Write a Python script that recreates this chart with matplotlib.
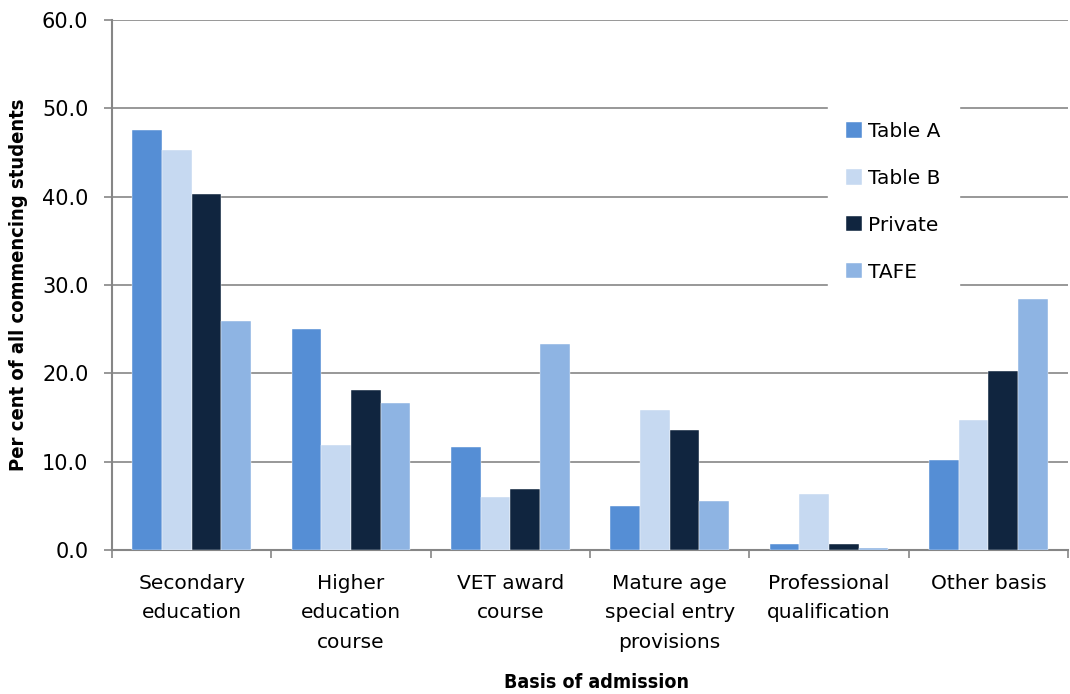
import numpy as np
import matplotlib
matplotlib.use("Agg")
from matplotlib import pyplot as plt

categories = ["Secondary\neducation", "Higher\neducation\ncourse", "VET award\ncourse",
              "Mature age\nspecial entry\nprovisions", "Professional\nqualification", "Other basis"]
series_names = ["Table A", "Table B", "Private", "TAFE"]
table_a = [47.6, 25.0, 11.7, 5.0, 0.7, 10.2]
table_b = [45.3, 11.9, 6.0, 15.8, 6.3, 14.7]
private = [40.3, 18.1, 6.9, 13.6, 0.7, 20.3]
tafe = [25.9, 16.6, 23.3, 5.6, 0.2, 28.4]
colors = ["#558ED5", "#C6D9F1", "#10253F", "#8EB4E3"]

grid_col = "#868686"

fig = plt.figure(figsize=(10.7, 6.94), dpi=100)
ax = fig.add_axes([112 / 1070, 1 - 550 / 694, 956 / 1070, 530 / 694])

x = np.arange(len(categories))
bar_w = 0.186
for i, (name, vals) in enumerate(zip(series_names, [table_a, table_b, private, tafe])):
    offs = (i - 1.5) * bar_w
    ax.bar(x + offs, vals, width=bar_w, color=colors[i], label=name, zorder=3,
           edgecolor="white", linewidth=0.3)

ax.set_xlim(-0.5, len(categories) - 0.5)
ax.set_ylim(0, 60)
ax.set_yticks(np.arange(0, 61, 10))
ax.set_yticklabels([f"{v:.1f}" for v in np.arange(0, 61, 10)], fontsize=15)
ax.yaxis.grid(True, color=grid_col, linewidth=1.2, zorder=0)
ax.set_axisbelow(True)

ax.set_xticks(x)
ax.set_xticklabels(categories, fontsize=14.5, linespacing=1.72)
ax.set_xticks(np.arange(-0.5, len(categories)), minor=True)
ax.tick_params(axis="x", which="major", length=0, pad=17)
ax.tick_params(axis="x", which="minor", length=6, color=grid_col, width=1.2)
ax.tick_params(axis="y", length=6, color=grid_col, width=1.2, pad=11)

for s in ["top", "right"]:
    ax.spines[s].set_visible(False)
for s in ["left", "bottom"]:
    ax.spines[s].set_color(grid_col)
    ax.spines[s].set_linewidth(1.5)

ax.set_ylabel("Per cent of all commencing students", fontsize=14.5, fontweight="bold",
              fontstretch="condensed", labelpad=10)
ax.set_xlabel("Basis of admission", fontsize=14, fontweight="bold",
              fontstretch="condensed")
ax.xaxis.set_label_coords(0.507, -0.232)

leg = ax.legend(loc="upper left", bbox_to_anchor=(716 / 956, 1 - 84 / 530), frameon=True,
                fontsize=14.5, labelspacing=1.38, handlelength=0.8, handleheight=0.8,
                handletextpad=0.3, borderpad=0.9, borderaxespad=0, fancybox=False)
leg.get_frame().set_edgecolor("white")
leg.get_frame().set_facecolor("white")
leg.get_frame().set_alpha(1)
leg.set_zorder(5)

fig.savefig("out.png", dpi=100)
